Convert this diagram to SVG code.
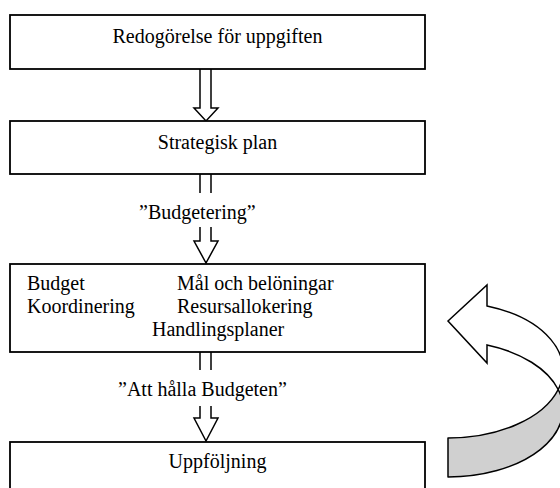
<svg xmlns="http://www.w3.org/2000/svg" width="560" height="488" viewBox="0 0 560 488">
<style>
.box{fill:#fff;stroke:#000;stroke-width:1.8}
.blk{fill:#fff;stroke:#000;stroke-width:1.5;stroke-linejoin:miter}
.t{font-family:"Liberation Serif","Times New Roman",serif;font-size:20px;fill:#000}
.c{text-anchor:middle}
.lbl{fill:#fff;stroke:none}
</style>
<rect width="560" height="488" fill="#fff"/>
<g id="connectors">
  <path class="blk" d="M200,69 L200,108 L194,108 L206,121 L218,108 L211,108 L211,69"/>
  <path class="blk" d="M200,174 L200,241 L194,241 L206,263 L218,241 L211,241 L211,174"/>
  <rect class="lbl" x="130" y="193" width="140" height="34"/>
  <text class="t" x="139" y="219">”Budgetering”</text>
  <path class="blk" d="M200,352 L200,418 L194,418 L206,441 L218,418 L211,418 L211,352"/>
  <rect class="lbl" x="110" y="370" width="185" height="36"/>
  <text class="t" x="118" y="396">”Att hålla Budgeten”</text>
</g>
<g id="node-redogorelse">
  <rect class="box" x="10" y="15" width="415" height="54"/>
  <text class="t c" x="217.5" y="43">Redogörelse för uppgiften</text>
</g>
<g id="node-strategisk">
  <rect class="box" x="10" y="121" width="415" height="53"/>
  <text class="t c" x="217.5" y="149">Strategisk plan</text>
</g>
<g id="node-budget">
  <rect class="box" x="10" y="264" width="415" height="88"/>
  <text class="t" x="27" y="290">Budget</text>
  <text class="t" x="177" y="290">Mål och belöningar</text>
  <text class="t" x="27" y="313">Koordinering</text>
  <text class="t" x="177" y="313">Resursallokering</text>
  <text class="t" x="152" y="336">Handlingsplaner</text>
</g>
<g id="node-uppfoljning">
  <rect class="box" x="10" y="442" width="415" height="60"/>
  <text class="t c" x="217.5" y="468">Uppföljning</text>
</g>
<g id="feedback-arrow">
  <path d="M448,438 A115,68 0 0 0 558.2,389.5 A115,68 0 0 1 448,477 Z" fill="#d0d0d0" stroke="#000" stroke-width="1.5" stroke-linejoin="round"/>
  <path d="M487,306 A115,68 0 0 1 558.2,389.5 A115,68 0 0 0 487,345 L487,363 L448,321 L487,285 Z" fill="#fff" stroke="#000" stroke-width="1.5" stroke-linejoin="miter"/>
</g>
</svg>
